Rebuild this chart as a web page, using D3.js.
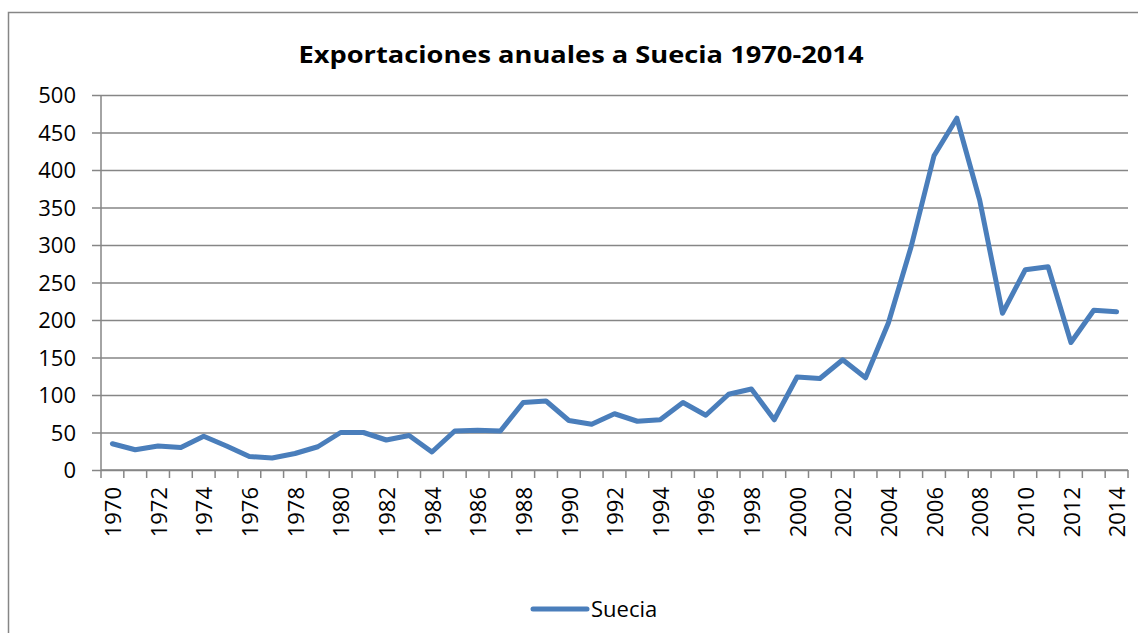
<!DOCTYPE html>
<html>
<head>
<meta charset="utf-8">
<script src="https://cdn.jsdelivr.net/npm/d3@7"></script>
<style>
  body { margin: 0; background: #fff; }
  text { font-family: "Open Sans", "Noto Sans", sans-serif; fill: #000; }
</style>
</head>
<body>
<div id="chart"></div>
<script>
const years = d3.range(1970, 2015);
const suecia = [35, 27, 32, 30, 45, 32, 18, 16, 22, 31,
                50, 50, 40, 46, 24, 52, 53, 52, 90, 92,
                66, 61, 75, 65, 67, 90, 73, 101, 108, 67,
                124, 122, 147, 123, 196, 298, 419, 469, 360, 209,
                267, 271, 170, 213, 211];
const yTicks = [0, 50, 100, 150, 200, 250, 300, 350, 400, 450, 500];
const title = "Exportaciones anuales  a Suecia 1970-2014";
const seriesName = "Suecia";

const W = 1138, H = 633;
const margin = { top: 95, right: 10, bottom: 163, left: 101 };
const width = W - margin.left - margin.right;
const height = H - margin.top - margin.bottom;

const svg = d3.select("#chart").append("svg")
    .attr("width", W).attr("height", H);

// outer chart border
svg.append("rect")
    .attr("x", 8.5).attr("y", 12.5)
    .attr("width", 1140).attr("height", 640)
    .attr("fill", "none").attr("stroke", "#868686").attr("stroke-width", 1.5);

svg.append("text")
    .attr("x", 581).attr("y", 63)
    .attr("text-anchor", "middle")
    .attr("font-size", 23).attr("font-weight", "bold")
    .attr("textLength", 565).attr("lengthAdjust", "spacingAndGlyphs")
    .text(title);

const g = svg.append("g").attr("transform", `translate(${margin.left},${margin.top})`);

const x = d3.scaleBand().domain(years).range([0, width]);
const y = d3.scaleLinear().domain([0, 500]).range([height, 0]);

// gridlines with outside ticks
g.append("g")
    .call(d3.axisLeft(y).tickValues(yTicks).tickSize(-width).tickSizeOuter(0).tickFormat(d3.format("d")))
    .call(a => a.select(".domain").remove())
    .call(a => a.selectAll(".tick line").attr("stroke", "#868686").attr("stroke-width", 1.5).attr("x1", -9))
    .call(a => a.selectAll(".tick text").attr("font-size", 22).attr("x", -25).attr("dy", "0.35em"));

// y axis line
g.append("line")
    .attr("x1", 0).attr("x2", 0).attr("y1", 0).attr("y2", height)
    .attr("stroke", "#868686").attr("stroke-width", 1.5);

// x axis with boundary ticks
const xAxis = g.append("g").attr("transform", `translate(0,${height})`);
xAxis.append("line")
    .attr("x1", 0).attr("x2", width)
    .attr("stroke", "#868686").attr("stroke-width", 1.5);
xAxis.selectAll(".bt")
    .data(years.concat([2015]))
    .enter().append("line")
    .attr("x1", d => d === 2015 ? width : x(d))
    .attr("x2", d => d === 2015 ? width : x(d))
    .attr("y1", 0).attr("y2", 8)
    .attr("stroke", "#868686").attr("stroke-width", 1.5);
xAxis.selectAll(".lbl")
    .data(years.filter(d => d % 2 === 0))
    .enter().append("text")
    .attr("transform", d => `translate(${x(d) + x.bandwidth() / 2 + 1},17) rotate(-90)`)
    .attr("text-anchor", "end")
    .attr("dy", "0.35em")
    .attr("font-size", 22)
    .text(d => d);

const line = d3.line()
    .x((d, i) => x(years[i]) + x.bandwidth() / 2)
    .y(d => y(d));

g.append("path")
    .datum(suecia)
    .attr("d", line)
    .attr("fill", "none")
    .attr("stroke", "#4a7ebb")
    .attr("stroke-width", 5)
    .attr("stroke-linejoin", "round")
    .attr("stroke-linecap", "round");

// legend
const lg = svg.append("g").attr("transform", "translate(533,609)");
lg.append("line")
    .attr("x1", 0).attr("x2", 54)
    .attr("stroke", "#4a7ebb").attr("stroke-width", 5).attr("stroke-linecap", "round");
lg.append("text")
    .attr("x", 58).attr("dy", "0.35em")
    .attr("font-size", 22)
    .text(seriesName);
</script>
</body>
</html>
